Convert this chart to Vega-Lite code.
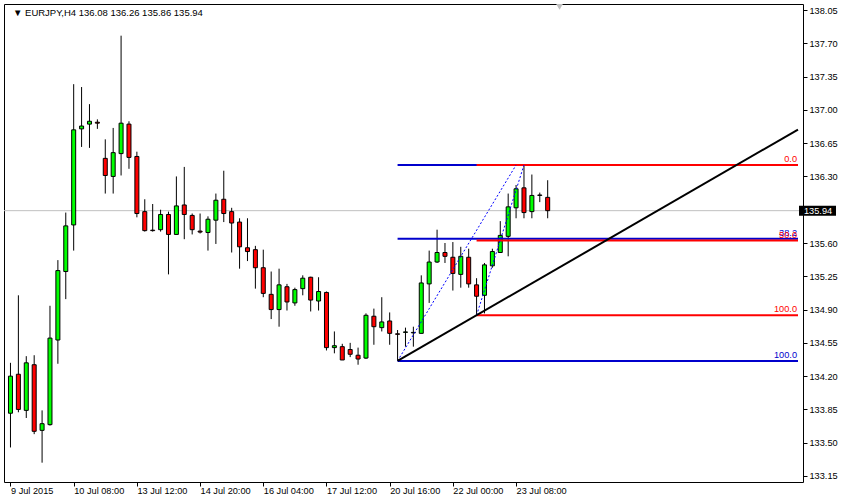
{
  "$schema": "https://vega.github.io/schema/vega-lite/v6.json",
  "width": 799,
  "height": 478,
  "autosize": {"type": "none"},
  "padding": {"left": 4, "top": 4, "right": 42, "bottom": 19},
  "background": "#ffffff",
  "config": {
    "view": {"stroke": "#000000", "strokeWidth": 1},
    "axis": {"labelFont": "Liberation Sans", "labelFontSize": 9.2, "labelColor": "#000000", "tickColor": "#000000", "grid": false, "domain": false, "title": null, "labelOverlap": false, "labelFlush": false, "labelBound": false}
  },
  "datasets": {
    "header": [
      {"text": "▼  EURJPY,H4  136.08 136.26 135.86 135.94"}
    ],
    "candles": [
      {"i":0,"o":133.81,"h":134.34,"l":133.45,"c":134.20},
      {"i":1,"o":134.22,"h":135.05,"l":133.82,"c":133.85},
      {"i":2,"o":133.84,"h":134.41,"l":133.76,"c":134.34},
      {"i":3,"o":134.32,"h":134.42,"l":133.59,"c":133.62},
      {"i":4,"o":133.63,"h":133.84,"l":133.29,"c":133.70},
      {"i":5,"o":133.69,"h":134.94,"l":133.68,"c":134.60},
      {"i":6,"o":134.58,"h":135.42,"l":134.33,"c":135.31},
      {"i":7,"o":135.30,"h":135.92,"l":135.01,"c":135.78},
      {"i":8,"o":135.79,"h":137.27,"l":135.52,"c":136.79},
      {"i":9,"o":136.80,"h":137.24,"l":136.61,"c":136.83},
      {"i":10,"o":136.85,"h":137.06,"l":136.60,"c":136.88},
      {"i":11,"o":136.87,"h":136.90,"l":136.80,"c":136.86},
      {"i":12,"o":136.49,"h":136.69,"l":136.12,"c":136.31},
      {"i":13,"o":136.30,"h":136.81,"l":136.12,"c":136.55},
      {"i":14,"o":136.54,"h":137.78,"l":136.31,"c":136.86},
      {"i":15,"o":136.85,"h":136.88,"l":136.38,"c":136.50},
      {"i":16,"o":136.51,"h":136.56,"l":135.87,"c":135.91},
      {"i":17,"o":135.93,"h":136.06,"l":135.72,"c":135.73},
      {"i":18,"o":135.735,"h":136.01,"l":135.72,"c":135.73},
      {"i":19,"o":135.74,"h":135.95,"l":135.72,"c":135.90},
      {"i":20,"o":135.90,"h":135.93,"l":135.27,"c":135.69},
      {"i":21,"o":135.69,"h":136.30,"l":135.69,"c":135.99},
      {"i":22,"o":136.00,"h":136.40,"l":135.64,"c":135.90},
      {"i":23,"o":135.89,"h":135.91,"l":135.69,"c":135.74},
      {"i":24,"o":135.725,"h":135.91,"l":135.70,"c":135.715},
      {"i":25,"o":135.71,"h":135.88,"l":135.52,"c":135.85},
      {"i":26,"o":135.84,"h":136.12,"l":135.59,"c":136.05},
      {"i":27,"o":136.06,"h":136.36,"l":135.82,"c":135.91},
      {"i":28,"o":135.93,"h":135.97,"l":135.50,"c":135.81},
      {"i":29,"o":135.82,"h":135.86,"l":135.33,"c":135.56},
      {"i":30,"o":135.55,"h":135.86,"l":135.41,"c":135.51},
      {"i":31,"o":135.53,"h":135.57,"l":135.12,"c":135.34},
      {"i":32,"o":135.34,"h":135.53,"l":135.03,"c":135.07},
      {"i":33,"o":135.06,"h":135.30,"l":134.80,"c":134.90},
      {"i":34,"o":134.90,"h":135.33,"l":134.72,"c":135.16},
      {"i":35,"o":135.14,"h":135.17,"l":134.89,"c":134.98},
      {"i":36,"o":134.97,"h":135.13,"l":134.94,"c":135.11},
      {"i":37,"o":135.12,"h":135.26,"l":135.05,"c":135.23},
      {"i":38,"o":135.24,"h":135.245,"l":134.88,"c":135.00},
      {"i":39,"o":134.99,"h":135.24,"l":134.89,"c":135.09},
      {"i":40,"o":135.08,"h":135.09,"l":134.47,"c":134.50},
      {"i":41,"o":134.50,"h":134.67,"l":134.44,"c":134.52},
      {"i":42,"o":134.51,"h":134.54,"l":134.37,"c":134.37},
      {"i":43,"o":134.48,"h":134.55,"l":134.40,"c":134.43},
      {"i":44,"o":134.42,"h":134.50,"l":134.32,"c":134.38},
      {"i":45,"o":134.39,"h":134.86,"l":134.38,"c":134.84},
      {"i":46,"o":134.83,"h":134.91,"l":134.53,"c":134.72},
      {"i":47,"o":134.71,"h":135.03,"l":134.67,"c":134.77},
      {"i":48,"o":134.78,"h":134.87,"l":134.53,"c":134.65},
      {"i":49,"o":134.645,"h":134.685,"l":134.36,"c":134.64},
      {"i":50,"o":134.66,"h":134.71,"l":134.51,"c":134.665},
      {"i":51,"o":134.655,"h":134.72,"l":134.51,"c":134.66},
      {"i":52,"o":134.65,"h":135.26,"l":134.65,"c":135.18},
      {"i":53,"o":135.17,"h":135.52,"l":134.97,"c":135.40},
      {"i":54,"o":135.40,"h":135.74,"l":135.39,"c":135.50},
      {"i":55,"o":135.50,"h":135.60,"l":135.39,"c":135.46},
      {"i":56,"o":135.45,"h":135.61,"l":135.10,"c":135.28},
      {"i":57,"o":135.27,"h":135.56,"l":135.13,"c":135.46},
      {"i":58,"o":135.45,"h":135.54,"l":135.13,"c":135.17},
      {"i":59,"o":135.16,"h":135.23,"l":134.84,"c":135.04},
      {"i":60,"o":135.05,"h":135.39,"l":134.86,"c":135.37},
      {"i":61,"o":135.36,"h":135.54,"l":135.34,"c":135.51},
      {"i":62,"o":135.50,"h":135.83,"l":135.50,"c":135.68},
      {"i":63,"o":135.67,"h":136.12,"l":135.46,"c":135.98},
      {"i":64,"o":135.97,"h":136.21,"l":135.86,"c":136.17},
      {"i":65,"o":136.18,"h":136.42,"l":135.86,"c":135.92},
      {"i":66,"o":135.93,"h":136.32,"l":135.86,"c":136.10},
      {"i":67,"o":136.10,"h":136.13,"l":136.03,"c":136.105},
      {"i":68,"o":136.08,"h":136.26,"l":135.86,"c":135.94}
    ],
    "levels": [
      {"fib":"A","x":49,"x2":99.6875,"y":136.42},
      {"fib":"A","x":49,"x2":99.6875,"y":135.645},
      {"fib":"A","x":49,"x2":99.6875,"y":134.36},
      {"fib":"B","x":59,"x2":99.6875,"y":136.42},
      {"fib":"B","x":59,"x2":99.6875,"y":135.625},
      {"fib":"B","x":59,"x2":99.6875,"y":134.84}
    ],
    "levelLabels": [
      {"fib":"A","t":"38.2","y":135.645},
      {"fib":"A","t":"100.0","y":134.36},
      {"fib":"B","t":"0.0","y":136.42},
      {"fib":"B","t":"50.0","y":135.625},
      {"fib":"B","t":"100.0","y":134.84}
    ],
    "diag": [
      {"x":49,"y":134.36,"x2":64,"y2":136.42},
      {"x":59,"y":134.84,"x2":65,"y2":136.42}
    ],
    "trend": [
      {"x":49,"y":134.36,"x2":99.6875,"y2":136.793}
    ],
    "last": [
      {"price":135.94,"label":"135.94"}
    ],
    "shift": [
      {"i":69.5,"p":138.082}
    ]
  },
  "layer": [
    {
      "data": {"name": "last"},
      "mark": {"type": "rule", "color": "#c0c0c0", "strokeWidth": 1},
      "encoding": {
        "y": {"field": "price", "type": "quantitative", "scale": {"domain": [133.0869, 138.1131], "nice": false, "zero": false},
          "axis": {"orient": "right", "values": [133.15,133.5,133.85,134.2,134.55,134.9,135.25,135.6,136.3,136.65,137.0,137.35,137.7,138.05], "tickCount": 30, "format": ".2f", "tickSize": 4, "labelPadding": 2, "labelOverlap": false}}
      }
    },
    {
      "data": {"name": "candles"},
      "mark": {"type": "rule", "color": "#000000", "strokeWidth": 1},
      "encoding": {
        "x": {"field": "i", "type": "quantitative", "scale": {"domain": [-0.1875, 99.6875], "nice": false, "zero": false},
          "axis": {"orient": "bottom", "values": [0,8,16,24,32,40,48,56,64], "tickCount": 30, "labelExpr": "['9 Jul 2015','10 Jul 08:00','13 Jul 12:00','14 Jul 20:00','16 Jul 04:00','17 Jul 12:00','20 Jul 16:00','22 Jul 00:00','23 Jul 08:00'][round(datum.value/8)]", "labelAlign": "left", "labelBaseline": "top", "tickSize": 4, "labelPadding": 0, "labelOverlap": false}},
        "y": {"field": "l", "type": "quantitative"},
        "y2": {"field": "h"}
      }
    },
    {
      "data": {"name": "candles"},
      "mark": {"type": "bar", "orient": "vertical", "size": 4, "stroke": "#000000", "strokeWidth": 1},
      "encoding": {
        "x": {"field": "i", "type": "quantitative"},
        "y": {"field": "o", "type": "quantitative"},
        "y2": {"field": "c"},
        "fill": {"condition": {"test": "datum.c >= datum.o", "value": "#00ff00"}, "value": "#ff0000"}
      }
    },
    {
      "data": {"name": "levels"},
      "mark": {"type": "rule", "strokeWidth": 2},
      "encoding": {
        "x": {"field": "x", "type": "quantitative"},
        "x2": {"field": "x2"},
        "y": {"field": "y", "type": "quantitative"},
        "color": {"field": "fib", "type": "nominal", "scale": {"domain": ["A","B"], "range": ["#0000cc","#ff0000"]}, "legend": null}
      }
    },
    {
      "data": {"name": "diag"},
      "mark": {"type": "rule", "strokeWidth": 1, "color": "#0000ff", "strokeDash": [2, 2]},
      "encoding": {
        "x": {"field": "x", "type": "quantitative"},
        "x2": {"field": "x2"},
        "y": {"field": "y", "type": "quantitative"},
        "y2": {"field": "y2"}
      }
    },
    {
      "data": {"name": "trend"},
      "mark": {"type": "rule", "strokeWidth": 2, "color": "#000000"},
      "encoding": {
        "x": {"field": "x", "type": "quantitative"},
        "x2": {"field": "x2"},
        "y": {"field": "y", "type": "quantitative"},
        "y2": {"field": "y2"}
      }
    },
    {
      "data": {"name": "levelLabels"},
      "mark": {"type": "text", "align": "right", "baseline": "bottom", "dx": -1, "dy": -1, "font": "Liberation Sans", "fontSize": 9.2},
      "encoding": {
        "x": {"datum": 99.6875, "type": "quantitative"},
        "y": {"field": "y", "type": "quantitative"},
        "text": {"field": "t"},
        "color": {"field": "fib", "type": "nominal", "legend": null}
      }
    },
    {
      "data": {"name": "last"},
      "mark": {"type": "rect", "color": "#000000", "xOffset": 1, "x2Offset": 38, "yOffset": -5, "y2Offset": 5},
      "encoding": {
        "x": {"datum": 99.6875, "type": "quantitative"},
        "x2": {"datum": 99.6875},
        "y": {"field": "price", "type": "quantitative"},
        "y2": {"field": "price"}
      }
    },
    {
      "data": {"name": "last"},
      "mark": {"type": "text", "align": "left", "baseline": "middle", "dx": 6, "color": "#ffffff", "font": "Liberation Sans", "fontSize": 9.2},
      "encoding": {
        "x": {"datum": 99.6875, "type": "quantitative"},
        "y": {"field": "price", "type": "quantitative"},
        "text": {"field": "label"}
      }
    },
    {
      "data": {"name": "header"},
      "mark": {"type": "text", "align": "left", "baseline": "alphabetic", "dx": 4, "dy": 12, "color": "#000000", "font": "Liberation Sans", "fontSize": 9.5},
      "encoding": {
        "x": {"datum": -0.1875, "type": "quantitative"},
        "y": {"datum": 138.1131, "type": "quantitative"},
        "text": {"field": "text"}
      }
    },
    {
      "data": {"name": "shift"},
      "mark": {"type": "point", "shape": "triangle-down", "filled": true, "color": "#c0c0c0", "size": 45, "opacity": 1},
      "encoding": {
        "x": {"field": "i", "type": "quantitative"},
        "y": {"field": "p", "type": "quantitative"}
      }
    }
  ]
}
